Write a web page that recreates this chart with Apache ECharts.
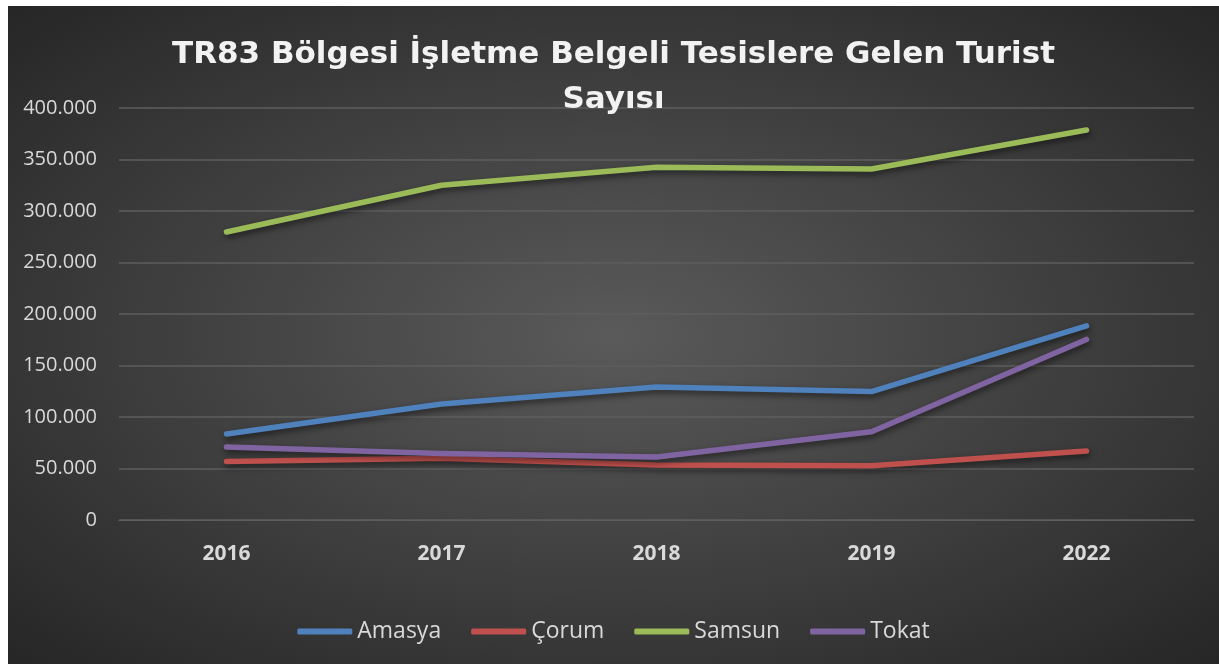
<!DOCTYPE html>
<html>
<head>
<meta charset="utf-8">
<script src="https://cdn.jsdelivr.net/npm/echarts@6/dist/echarts.min.js"></script>
<style>
  html, body { margin: 0; padding: 0; background: #fff; }
  #chart {
    position: absolute; left: 8px; top: 6px; width: 1211px; height: 658px;
    background: radial-gradient(ellipse farthest-corner at 50% 50%, #5a5a5a 0%, #262626 100%);
  }
</style>
</head>
<body>
<div id="chart"></div>
<script>
// data
var years = ['2016', '2017', '2018', '2019', '2022'];
var amasya = [83500, 112600, 129200, 124700, 188500];
var corum = [56800, 60000, 53400, 52700, 67000];
var samsun = [279600, 325000, 342500, 340800, 378600];
var tokat = [70900, 64500, 61200, 85600, 175300];
var yTicks = [0, 50000, 100000, 150000, 200000, 250000, 300000, 350000, 400000];

function fmt(v) {
  // Turkish thousands separator
  return String(v).replace(/\B(?=(\d{3})+(?!\d))/g, '.');
}

function line(name, data, color) {
  return {
    name: name,
    type: 'line',
    data: data,
    symbol: 'none',
    lineStyle: {
      width: 5.5,
      color: color,
      cap: 'round',
      join: 'round',
      shadowColor: 'rgba(0,0,0,0.55)',
      shadowBlur: 6,
      shadowOffsetY: 3,
      shadowOffsetX: 1
    },
    itemStyle: { color: color }
  };
}

var chart = echarts.init(document.getElementById('chart'));
chart.setOption({
  backgroundColor: 'transparent',
  animation: false,
  title: {
    text: 'TR83 Bölgesi İşletme Belgeli Tesislere Gelen Turist\nSayısı',
    left: 'center',
    top: 21,
    textStyle: {
      color: '#f2f2f2',
      fontFamily: 'DejaVu Sans',
      fontWeight: 'bold',
      fontSize: 31,
      lineHeight: 45
    }
  },
  legend: {
    bottom: 16,
    left: 'center',
    itemWidth: 55,
    itemHeight: 6,
    itemGap: 30,
    icon: 'roundRect',
    textStyle: { color: '#d9d9d9', fontFamily: 'Open Sans', fontSize: 23 },
    data: ['Amasya', 'Çorum', 'Samsun', 'Tokat']
  },
  grid: { left: 111, right: 25, top: 102, bottom: 144, containLabel: false },
  xAxis: {
    type: 'category',
    data: years,
    boundaryGap: true,
    axisLine: { lineStyle: { color: '#5e5e5e' } },
    axisTick: { show: false },
    axisLabel: {
      color: '#d9d9d9',
      fontFamily: 'Open Sans',
      fontWeight: 'bold',
      fontSize: 21,
      margin: 24
    }
  },
  yAxis: {
    type: 'value',
    min: yTicks[0],
    max: yTicks[yTicks.length - 1],
    interval: 50000,
    axisLine: { show: false },
    axisTick: { show: false },
    splitLine: { lineStyle: { color: '#5e5e5e', width: 1.5 } },
    axisLabel: {
      color: '#d9d9d9',
      fontFamily: 'Open Sans',
      fontSize: 20,
      margin: 22,
      formatter: fmt
    }
  },
  series: [
    line('Amasya', amasya, '#4f81bd'),
    line('Çorum', corum, '#c0504d'),
    line('Samsun', samsun, '#9bbb59'),
    line('Tokat', tokat, '#8064a2')
  ]
});
</script>
</body>
</html>
